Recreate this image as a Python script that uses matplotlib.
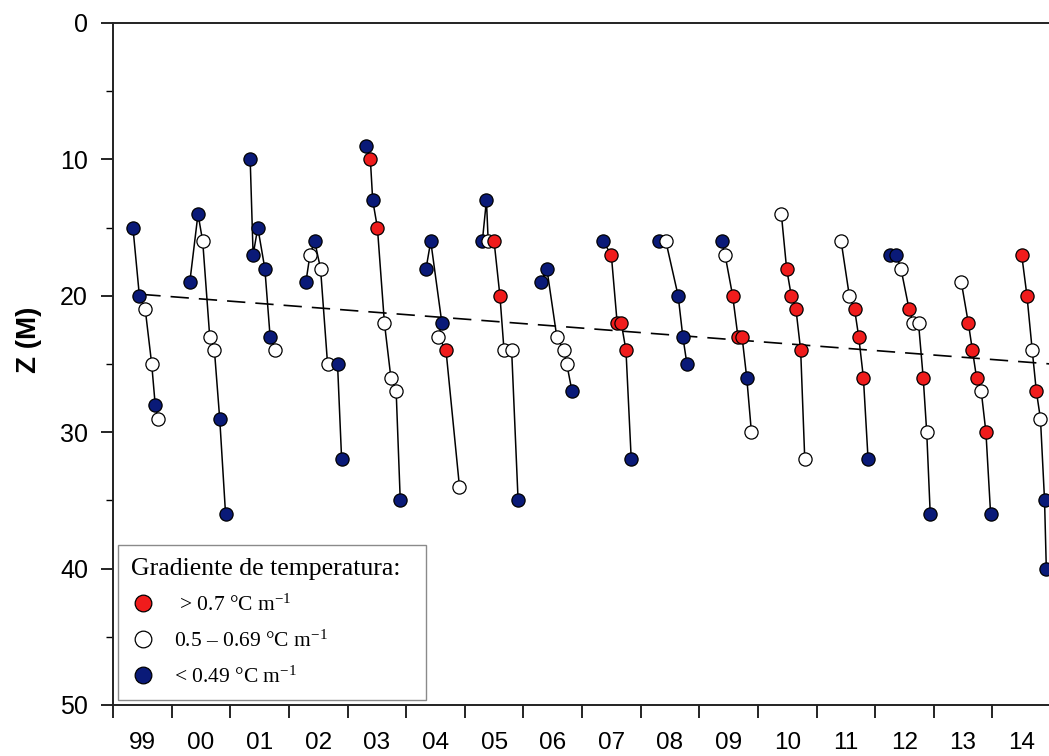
import matplotlib.pyplot as plt
from matplotlib.lines import Line2D
from matplotlib.ticker import FixedLocator, MultipleLocator, NullFormatter

plt.rcParams['font.family'] = ['Liberation Sans', 'DejaVu Sans']
plt.rcParams['mathtext.fontset'] = 'custom'
plt.rcParams['mathtext.rm'] = 'Liberation Serif'
plt.rcParams['mathtext.it'] = 'Liberation Serif:italic'

# ---- data: one profile per year (position inside the year, depth, class) ----
years = ['99', '00', '01', '02', '03', '04', '05', '06',
         '07', '08', '09', '10', '11', '12', '13', '14']

pos = [
    [0.34, 0.45, 0.55, 0.66, 0.72, 0.77],
    [0.31, 0.45, 0.53, 0.65, 0.73, 0.82, 0.92],
    [0.34, 0.39, 0.47, 0.59, 0.68, 0.77],
    [0.29, 0.36, 0.44, 0.54, 0.66, 0.83, 0.90],
    [0.32, 0.39, 0.43, 0.51, 0.63, 0.74, 0.83, 0.90],
    [0.34, 0.42, 0.61, 0.55, 0.68, 0.91],
    [0.30, 0.37, 0.40, 0.50, 0.60, 0.67, 0.80, 0.91],
    [0.30, 0.40, 0.57, 0.69, 0.74, 0.83],
    [0.36, 0.50, 0.60, 0.67, 0.75, 0.84],
    [0.32, 0.43, 0.64, 0.72, 0.79],
    [0.38, 0.44, 0.57, 0.66, 0.73, 0.81, 0.89],
    [0.40, 0.49, 0.57, 0.65, 0.73, 0.80],
    [0.42, 0.56, 0.65, 0.72, 0.80, 0.88],
    [0.26, 0.36, 0.44, 0.58, 0.65, 0.74, 0.82, 0.88, 0.94],
    [0.47, 0.59, 0.66, 0.73, 0.81, 0.89, 0.97],
    [0.50, 0.59, 0.68, 0.75, 0.82, 0.89, 0.92],
]

depth = [
    [15, 20, 21, 25, 28, 29],
    [19, 14, 16, 23, 24, 29, 36],
    [10, 17, 15, 18, 23, 24],
    [19, 17, 16, 18, 25, 25, 32],
    [9, 10, 13, 15, 22, 26, 27, 35],
    [18, 16, 22, 23, 24, 34],
    [16, 13, 16, 16, 20, 24, 24, 35],
    [19, 18, 23, 24, 25, 27],
    [16, 17, 22, 22, 24, 32],
    [16, 16, 20, 23, 25],
    [16, 17, 20, 23, 23, 26, 30],
    [14, 18, 20, 21, 24, 32],
    [16, 20, 21, 23, 26, 32],
    [17, 17, 18, 21, 22, 22, 26, 30, 36],
    [19, 22, 24, 26, 27, 30, 36],
    [17, 20, 24, 27, 29, 35, 40],
]

# R: > 0.7, W: 0.5-0.69, B: < 0.49 degC/m
grad_class = [
    'BBWWBW', 'BBWWWBB', 'BBBBBW', 'BWBWWBB', 'BRBRWWWB', 'BBBWRW',
    'BBWRRWWB', 'BBWWWB', 'BRRRRB', 'BWBBB', 'BWRRRBW', 'WRRRRW',
    'WWRRRB', 'BBWRWWRWB', 'WRRRWRB', 'RRWRWBB',
]

# linear trend of the thermocline depth
trend_x = [0.5, 16.0]
trend_z = [19.9, 25.0]

colors = {'R': '#f01c1c', 'W': 'white', 'B': '#0a1a78'}

fig = plt.figure(figsize=(10.49, 7.56), dpi=100)
ax = fig.add_axes([113 / 1049, 51 / 756, 938 / 1049, 682 / 756])

for k in range(len(years)):
    xs = [k + p for p in pos[k]]
    zs = depth[k]
    ax.plot(xs, zs, color='black', lw=1.1, zorder=2)
    for x, z, c in zip(xs, zs, grad_class[k]):
        ax.plot(x, z, 'o', ms=9.5, mfc=colors[c], mec='black', mew=0.9,
                zorder=3)

ax.plot(trend_x, trend_z, color='black', lw=1.2, dashes=(11, 6), zorder=1)

ax.set_xlim(0, 16)
ax.set_ylim(50, 0)

ax.xaxis.set_major_locator(FixedLocator(range(17)))
ax.xaxis.set_major_formatter(NullFormatter())
ax.xaxis.set_minor_locator(FixedLocator([k + 0.5 for k in range(16)]))
ax.set_xticklabels(years, minor=True)
ax.tick_params(axis='x', which='major', direction='out', length=9, width=1.2)
ax.tick_params(axis='x', which='minor', length=0, pad=19.5, labelsize=17.5)

ax.yaxis.set_major_locator(MultipleLocator(10))
ax.yaxis.set_minor_locator(MultipleLocator(5))
ax.tick_params(axis='y', which='major', direction='out', length=9, width=1.2,
               pad=9, labelsize=18)
ax.tick_params(axis='y', which='minor', direction='out', length=5, width=1.0)

ax.set_ylabel('Z (M)', fontsize=20, fontweight='bold')
ax.yaxis.set_label_coords(-0.076, 0.535)

ax.spines['right'].set_visible(False)
for s in ['left', 'top', 'bottom']:
    ax.spines[s].set_linewidth(1.4)
    ax.spines[s].set_color('#222222')

# legend
handles = [Line2D([], [], ls='none', marker='o', ms=12, mfc=colors[c],
                  mec='black', mew=0.9) for c in 'RWB']
labels = [r' > 0.7 °C m$^{-1}$', r'0.5 – 0.69 °C m$^{-1}$',
          r'< 0.49 °C m$^{-1}$']
leg = ax.legend(handles, labels, title='Gradiente de temperatura:  ',
                loc='upper left', bbox_to_anchor=(0.0053, 0.2346),
                borderaxespad=0, frameon=True, fancybox=False,
                edgecolor='#8a8a8a', framealpha=1, handlelength=1.1,
                handletextpad=0.9, labelspacing=0.68, borderpad=0.6,
                alignment='left',
                prop={'family': 'Liberation Serif', 'size': 15.5},
                title_fontproperties={'family': 'Liberation Serif',
                                      'size': 18.5})
leg.get_frame().set_linewidth(1.0)

fig.savefig('out.png', dpi=100)
